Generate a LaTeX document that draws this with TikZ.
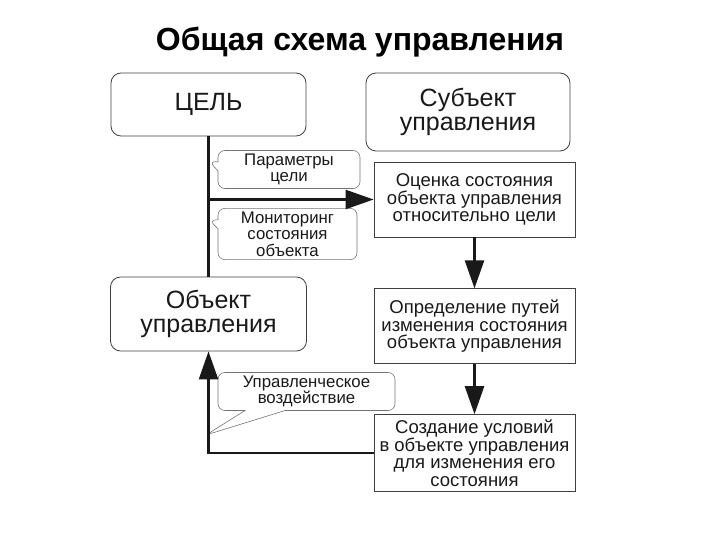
\documentclass[tikz,border=0pt]{standalone}
\usepackage{fontspec}
\setmainfont{Liberation Sans}
\usetikzlibrary{shapes.callouts, arrows.meta, positioning}

\tikzstyle{bigbox} = [
    rectangle,
    rounded corners=10pt,
    draw=black!75,
    line width=0.8pt,
    align=center,
    font=\fontsize{25}{23.5}\selectfont,
    text=black!90
]
\tikzstyle{stepbox} = [
    rectangle,
    minimum width=201pt,
    minimum height=75pt,
    draw=black!75,
    line width=0.8pt,
    align=center,
    font=\fontsize{18.5}{17.5}\selectfont,
    text=black!90
]
\tikzstyle{note} = [
    rectangle callout,
    rounded corners=7pt,
    draw=black!55,
    line width=0.6pt,
    align=center,
    callout pointer width=9pt,
    font=\fontsize{16.8}{16.5}\selectfont,
    text=black!90
]
\tikzstyle{line} = [line width=2.4pt, black!90]
\tikzstyle{arrow} = [line, -{Triangle[length=28pt,width=19pt]}]

\begin{document}
\begin{tikzpicture}[x=1pt, y=-1pt, node distance=50pt]
\useasboundingbox (0,0) rectangle (720,540);

\node (title) at (360,42) {\fontsize{32}{32}\selectfont\bfseries Общая схема управления};

\node (goal) [bigbox, minimum width=195pt, minimum height=63pt] at (208.5,104.5)
{ЦЕЛЬ};

\node (subject) [bigbox, minimum width=204pt, minimum height=78pt] at (468,112)
{Субъект\\управления};

\node (object) [bigbox, minimum width=196pt, minimum height=74pt] at (208.5,314)
{Объект\\управления};

\node (assess) [stepbox] at (474.5,199.5)
{Оценка состояния\\объекта управления\\относительно цели};

\node (plan) [stepbox, below=51pt of assess]
{Определение путей\\изменения состояния\\объекта управления};

\node (create) [stepbox, minimum height=77pt, below=of plan]
{Создание условий\\в объекте управления\\для изменения его\\состояния};

\coordinate (split) at (goal.south |- assess.west);

\node (params) [note, minimum width=142pt, minimum height=35pt,
    callout absolute pointer={(209,161)}] at (289,169.5)
{Параметры\\цели};

\node (monitor) [note, minimum width=139pt, minimum height=50pt,
    callout absolute pointer={(209,220)}] at (287.5,234)
{Мониторинг\\состояния\\объекта};

\node (action) [note, minimum width=177pt, minimum height=37pt,
    callout pointer width=40pt,
    callout absolute pointer={(206,435)}] at (306.5,391.5)
{Управленческое\\воздействие};

\draw [line] (goal) -- (object);
\draw [arrow] (split) -- (assess);
\draw [arrow] (assess) -- (plan);
\draw [arrow] (plan) -- (create);
\draw [arrow] (create.west) -| (object.south);

\end{tikzpicture}
\end{document}
